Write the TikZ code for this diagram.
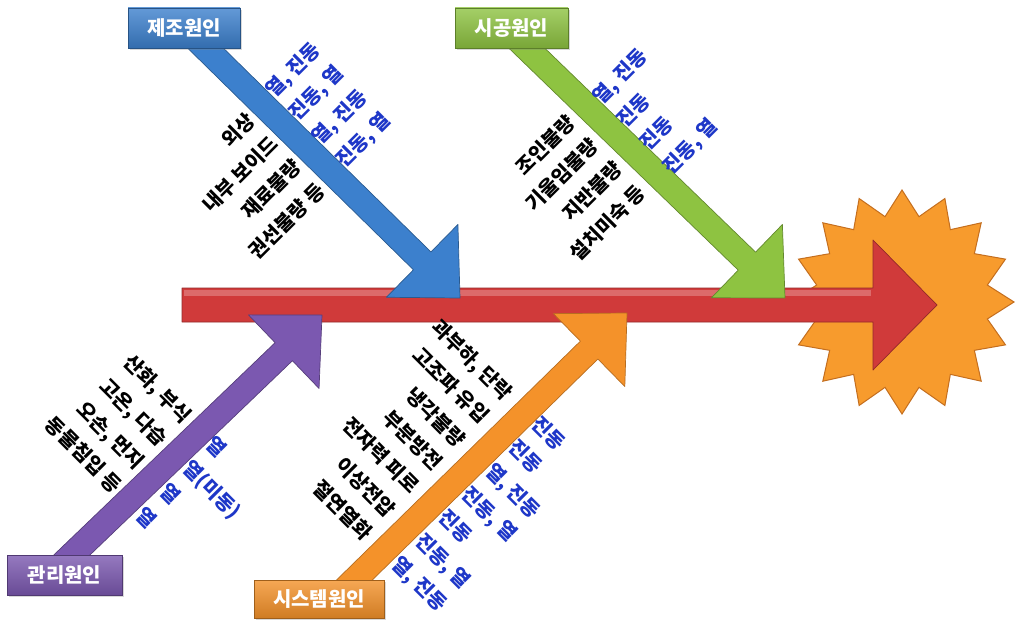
\documentclass[tikz,border=0pt]{standalone}
\usepackage{fontspec}
\newfontfamily\kr{Noto Sans CJK KR}
\usetikzlibrary{calc,shadows}
\definecolor{cBlue}{RGB}{60,128,205}
\definecolor{cGreen}{RGB}{142,195,65}
\definecolor{cPurple}{RGB}{123,88,176}
\definecolor{cOrange}{RGB}{244,146,42}
\definecolor{cRed}{RGB}{208,58,58}
\definecolor{cStar}{RGB}{247,155,45}
\definecolor{cStarEdge}{RGB}{196,110,30}
\definecolor{cEffect}{RGB}{30,55,200}
\newcommand\branch[4]{%
  \coordinate (#1-b) at ($(#2)!53pt!(#1)$);
  \filldraw[fill=#3, draw=#4, line width=0.7pt, line join=round]
    ($(#1)!12.5pt!90:(#2)$) -- ($(#1-b)!12.5pt!90:(#2)$) -- ($(#1-b)!51pt!90:(#2)$)
    -- (#2) -- ($(#1-b)!51pt!-90:(#2)$) -- ($(#1-b)!12.5pt!-90:(#2)$)
    -- ($(#1)!12.5pt!-90:(#2)$) -- cycle;
}
\tikzset{
  catbox/.style={minimum height=40pt, inner sep=0pt, text=white,
    font=\kr\bfseries\fontsize{20}{24}\selectfont,
    top color=#1!80!white, bottom color=#1!85!black, draw=#1!65!black, line width=0.6pt,
    drop shadow={opacity=0.3, shadow xshift=2pt, shadow yshift=-2pt}},
  cause/.style={inner sep=0pt, text=black, font=\kr\bfseries\fontsize{20}{33}\selectfont},
  effect/.style={inner sep=0pt, text=cEffect, font=\kr\bfseries\fontsize{20}{33}\selectfont}
}
\begin{document}
\begin{tikzpicture}[x=1pt,y=-1pt]
\useasboundingbox (0,0) rectangle (1019,626);
\fill[white] (0,0) rectangle (1019,626);
% result burst
\begin{scope}[shift={(902,302)}]
  \filldraw[fill=cStar, draw=cStarEdge, line width=1pt, line join=miter]
    (0:112) \foreach \i in {0,...,15} { -- ({\i*22.5+11.25}:87) -- ({\i*22.5+22.5}:112) } -- cycle;
\end{scope}
% spine
\coordinate (spineL) at (182,305);
\coordinate (spineT) at (937,305);
\filldraw[fill=cRed, draw=cRed!70!black, line width=0.7pt, line join=round]
  (182,288) -- (873,288) -- (873,240) -- (spineT) -- (873,370) -- (873,322) -- (182,322) -- cycle;
\fill[cRed!75!white] (184,290) rectangle (871,296);
% branch coordinates
\coordinate (mS) at (185,28);   \coordinate (mT) at (460,298);
\coordinate (cS) at (506,28);   \coordinate (cT) at (785,298);
\coordinate (gS) at (51,575);   \coordinate (gT) at (322,315);
\coordinate (sS) at (335,599);  \coordinate (sT) at (627,313);
\branch{mS}{mT}{cBlue}{cBlue!70!black}
\branch{cS}{cT}{cGreen}{cGreen!70!black}
\branch{gS}{gT}{cPurple}{cPurple!70!black}
\branch{sS}{sT}{cOrange}{cOrange!75!black}
% category boxes
\node[catbox=cBlue, minimum width=112pt] (mfg) at (184,28) {제조원인};
\node[catbox=cGreen, minimum width=113pt] (con) at (511.5,28) {시공원인};
\node[catbox=cPurple, minimum width=115pt] (mgt) at (64.5,575) {관리원인};
\node[catbox=cOrange, minimum width=130pt, minimum height=38pt] (sys) at (319,599) {시스템원인};
% causes and effects
\node[cause, rotate=45, align=right, anchor=east] (mfgc) at (286,151.7) {외상\\내부 보이드\\재료불량\\권선불량 등};
\node[effect, rotate=45, align=left, anchor=west] (mfge) at (304.8,129.4) {열, 진동\\진동, 열\\열, 진동\\진동, 열};
\node[cause, rotate=45, align=right, anchor=east] (conc) at (606.3,153.8) {조인불량\\기울임불량\\지반불량\\설치미숙 등};
\node[effect, rotate=45, align=left, anchor=west] (cone) at (632.2,135.8) {열, 진동\\진동\\진동\\진동, 열};
\node[cause, rotate=-45, align=right, anchor=east] (mgtc) at (152.7,454) {산화, 부식\\고온, 다습\\오손, 먼지\\동물침입 등};
\node[effect, rotate=-45, align=left, anchor=west] (mgte) at (175,475.5) {열\\열(미동)\\열\\열};
\node[cause, rotate=-45, align=right, anchor=east] (sysc) at (438.8,466.3) {과부하, 단락\\고조파 유입\\냉각불량\\부분방전\\전자력 피로\\이상전압\\절연열화};
\node[effect, rotate=-45, align=left, anchor=west] (syse) at (465.1,490.9) {진동\\진동\\열, 진동\\진동, 열\\진동\\진동, 열\\열, 진동};
\end{tikzpicture}
\end{document}
